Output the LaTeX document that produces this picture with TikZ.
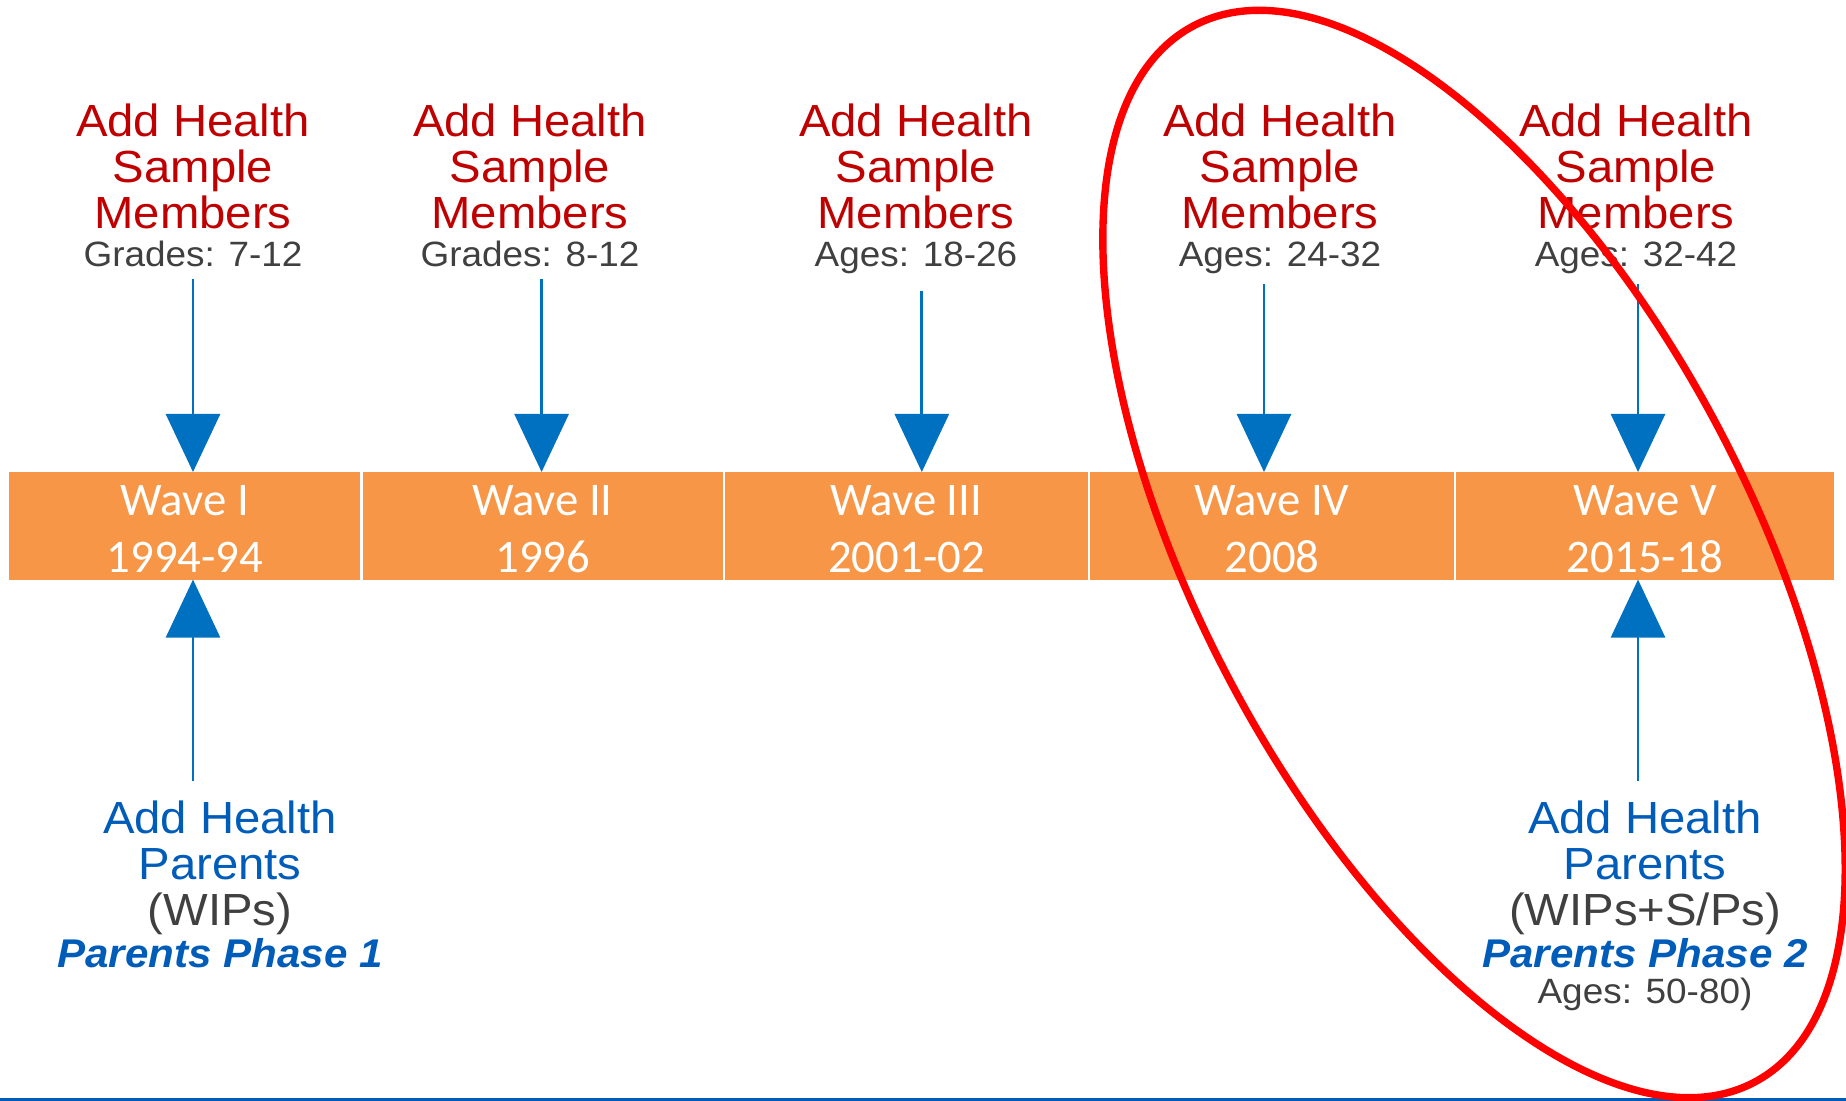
\documentclass[tikz,border=0pt]{standalone}
\usepackage{fontspec}
\setmainfont{Liberation Sans}[FakeStretch=1.05]
\newfontfamily\wavefont{Carlito}
\usetikzlibrary{positioning,arrows.meta}
\definecolor{memberred}{HTML}{C00000}
\definecolor{labelgray}{HTML}{404040}
\definecolor{parentblue}{HTML}{005CB9}
\definecolor{arrowblue}{HTML}{0070C0}
\definecolor{waveorange}{HTML}{F79646}
\definecolor{ringred}{HTML}{FF0000}
\tikzset{wave box/.style={fill=waveorange, text=white, inner sep=0pt, outer sep=0pt,
    minimum height=1.075cm, align=center, font=\wavefont\fontsize{13.3}{16.2}\selectfont,
    execute at begin node={\rule{0pt}{26.8pt}}},
  member text/.style={text=memberred, inner sep=0pt, outer sep=0pt, align=center,
    font=\fontsize{12.8}{13.1}\selectfont},
  age text/.style={text=labelgray, inner sep=0pt, outer sep=0pt,
    font=\fontsize{10}{12}\selectfont},
  parent text/.style={member text, text=parentblue},
  phase text/.style={text=parentblue, inner sep=0pt, outer sep=0pt,
    font=\fontsize{11.4}{13}\selectfont\bfseries\itshape},
  link/.style={arrowblue, line width=0.8pt, -{Triangle[length=0.58cm,width=0.54cm]}}}

\begin{document}
\begin{tikzpicture}[x=0.01cm, y=-0.01cm]
\useasboundingbox (0,0) rectangle (1846,1101);
% the waves
\node[wave box, minimum width=3.508cm] (w1) at (184.9,525.8) {Wave I\\1994-94};
\node[wave box, minimum width=3.601cm] (w2) at (542.75,525.8) {Wave II\\1996};
\node[wave box, minimum width=3.626cm] (w3) at (906.5,525.8) {Wave III\\2001-02};
\node[wave box, minimum width=3.638cm] (w4) at (1272.1,525.8) {Wave IV\\2008};
\node[wave box, minimum width=3.777cm] (w5) at (1645.2,525.8) {Wave V\\2015-18};
% sample members
\node[member text, anchor=north] (m1) at (193,103.8) {Add Health\\Sample\\Members};
\node[age text, below=0.125cm of m1] (g1) {Grades: 7-12};
\node[member text, anchor=north] (m2) at (530,103.8) {Add Health\\Sample\\Members};
\node[age text, below=0.125cm of m2] (g2) {Grades: 8-12};
\node[member text, anchor=north] (m3) at (916,103.8) {Add Health\\Sample\\Members};
\node[age text, below=0.125cm of m3] (g3) {Ages: 18-26};
\node[member text, anchor=north] (m4) at (1280,103.8) {Add Health\\Sample\\Members};
\node[age text, below=0.125cm of m4] (g4) {Ages: 24-32};
\node[member text, anchor=north] (m5) at (1636,103.8) {Add Health\\Sample\\Members};
\node[age text, below=0.125cm of m5] (g5) {Ages: 32-42};
\coordinate (s1) at (193,279);
\coordinate (s2) at (541.6,279);
\coordinate (s3) at (921.8,291);
\coordinate (s4) at (1264,284);
\coordinate (s5) at (1638,284);
\draw[link] (s1) -- (s1 |- w1.north);
\draw[link] (s2) -- (s2 |- w2.north);
\draw[link] (s3) -- (s3 |- w3.north);
\draw[link] (s4) -- (s4 |- w4.north);
\draw[link] (s5) -- (s5 |- w5.north);
% parents
\node[parent text, anchor=north] (p1) at (220,800.8) {Add Health\\Parents\\{\color{labelgray}(WIPs)}};
\node[phase text, below=0.038cm of p1] (ph1) {Parents Phase 1};
\node[parent text, anchor=north] (p5) at (1645,800.8) {Add Health\\Parents\\{\color{labelgray}(WIPs+S/Ps)}};
\node[phase text, below=0.038cm of p5] (ph5) {Parents Phase 2};
\node[age text, below=0.10cm of ph5] (a5) {Ages: 50-80)};
\coordinate (u1) at (193,781);
\coordinate (u5) at (1638,781);
\draw[link] (u1) -- (u1 |- w1.south);
\draw[link] (u5) -- (u5 |- w5.south);
% bottom rule and highlight
\draw[parentblue, line width=0.85pt] (0,1099.5) -- (1846,1099.5);
\draw[ringred, line width=2.1pt, rotate around={-62:(1474,554)}]
  (1474,554) ellipse [x radius=598, y radius=275];
\end{tikzpicture}
\end{document}
